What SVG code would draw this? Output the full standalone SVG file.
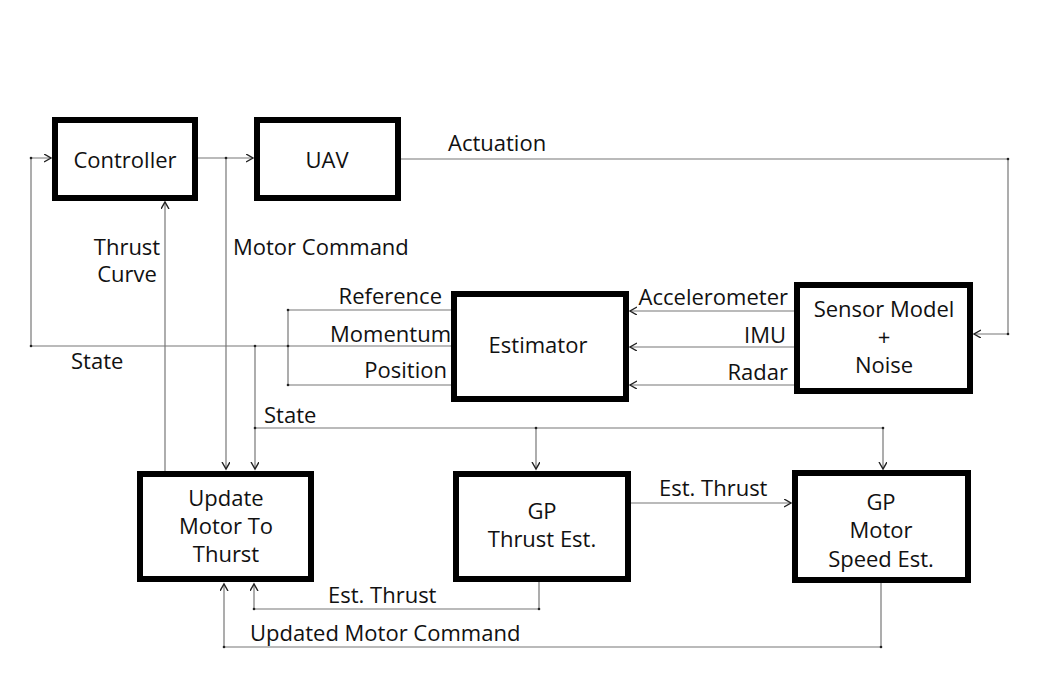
<svg xmlns="http://www.w3.org/2000/svg" width="1050" height="700" viewBox="0 0 1050 700">
<style>
.box{fill:#fff;stroke:#000;stroke-width:6}
.t{font-family:"Open Sans","Noto Sans",sans-serif;font-size:22px;fill:#111}
.m{text-anchor:middle}
.e{text-anchor:end}
.c{fill:none;stroke:#777;stroke-width:1.2}
.d{fill:#222}
</style>
<defs>
<marker id="arr" markerUnits="userSpaceOnUse" markerWidth="10" markerHeight="10" refX="7" refY="4" orient="auto">
<path d="M0,0 L7,4 L0,8" fill="none" stroke="#222" stroke-width="1.4"/>
</marker>
</defs>
<rect width="1050" height="700" fill="#fff"/>
<g id="connectors">
<path class="c" d="M198,158 H253" marker-end="url(#arr)"/>
<path class="c" d="M451,346 H31 V158 H51" marker-end="url(#arr)"/>
<path class="c" d="M451,310 H288 V385 H451"/>
<path class="c" d="M226,158 V469" marker-end="url(#arr)"/>
<path class="c" d="M165,471 V202" marker-end="url(#arr)"/>
<path class="c" d="M255,346 V469" marker-end="url(#arr)"/>
<path class="c" d="M255,428 H883 V469" marker-end="url(#arr)"/>
<path class="c" d="M536,428 V469" marker-end="url(#arr)"/>
<path class="c" d="M400,159 H1008 V334 H974" marker-end="url(#arr)"/>
<path class="c" d="M794,311 H630" marker-end="url(#arr)"/>
<path class="c" d="M794,347 H630" marker-end="url(#arr)"/>
<path class="c" d="M794,385 H630" marker-end="url(#arr)"/>
<path class="c" d="M631,503 H791" marker-end="url(#arr)"/>
<path class="c" d="M539,582 V609 H254 V584" marker-end="url(#arr)"/>
<path class="c" d="M881,583 V647 H224 V584" marker-end="url(#arr)"/>
<circle class="d" cx="31" cy="158" r="1.3"/>
<circle class="d" cx="31" cy="346" r="1.3"/>
<circle class="d" cx="226" cy="158" r="1.3"/>
<circle class="d" cx="255" cy="346" r="1.3"/>
<circle class="d" cx="288" cy="310" r="1.3"/>
<circle class="d" cx="288" cy="346" r="1.3"/>
<circle class="d" cx="288" cy="385" r="1.3"/>
<circle class="d" cx="255" cy="428" r="1.3"/>
<circle class="d" cx="536" cy="428" r="1.3"/>
<circle class="d" cx="883" cy="428" r="1.3"/>
<circle class="d" cx="1008" cy="159" r="1.3"/>
<circle class="d" cx="1008" cy="334" r="1.3"/>
<circle class="d" cx="539" cy="609" r="1.3"/>
<circle class="d" cx="254" cy="609" r="1.3"/>
<circle class="d" cx="881" cy="647" r="1.3"/>
<circle class="d" cx="224" cy="647" r="1.3"/>
</g>
<g id="labels">
<text class="t" x="448" y="151">Actuation</text>
<text class="t" x="233" y="255">Motor Command</text>
<text class="t m" x="127" y="255">Thrust</text>
<text class="t m" x="127" y="282">Curve</text>
<text class="t" x="71" y="369">State</text>
<text class="t e" x="442" y="304">Reference</text>
<text class="t e" x="451" y="342">Momentum</text>
<text class="t e" x="447" y="378">Position</text>
<text class="t e" x="788" y="305">Accelerometer</text>
<text class="t e" x="786" y="343">IMU</text>
<text class="t e" x="788" y="380">Radar</text>
<text class="t" x="264" y="423">State</text>
<text class="t" x="659" y="496">Est. Thrust</text>
<text class="t" x="328" y="603">Est. Thrust</text>
<text class="t" x="250" y="641">Updated Motor Command</text>
</g>
<g id="controller">
<rect class="box" x="55" y="120" width="140" height="78"/>
<text class="t m" x="125" y="168">Controller</text>
</g>
<g id="uav">
<rect class="box" x="257" y="120" width="141" height="78"/>
<text class="t m" x="327" y="168">UAV</text>
</g>
<g id="estimator">
<rect class="box" x="454" y="294" width="172" height="105"/>
<text class="t m" x="538" y="353">Estimator</text>
</g>
<g id="sensor">
<rect class="box" x="797" y="285" width="173" height="106"/>
<text class="t m" x="884" y="317">Sensor Model</text>
<text class="t m" x="884" y="345">+</text>
<text class="t m" x="884" y="373">Noise</text>
</g>
<g id="update">
<rect class="box" x="140" y="474" width="171" height="105"/>
<text class="t m" x="226" y="506">Update</text>
<text class="t m" x="226" y="534">Motor To</text>
<text class="t m" x="226" y="562">Thurst</text>
</g>
<g id="gpthrust">
<rect class="box" x="456" y="474" width="172" height="105"/>
<text class="t m" x="542" y="519">GP</text>
<text class="t m" x="542" y="547">Thrust Est.</text>
</g>
<g id="gpmotor">
<rect class="box" x="795" y="473" width="173" height="107"/>
<text class="t m" x="881" y="510">GP</text>
<text class="t m" x="881" y="538">Motor</text>
<text class="t m" x="881" y="567">Speed Est.</text>
</g>
</svg>
